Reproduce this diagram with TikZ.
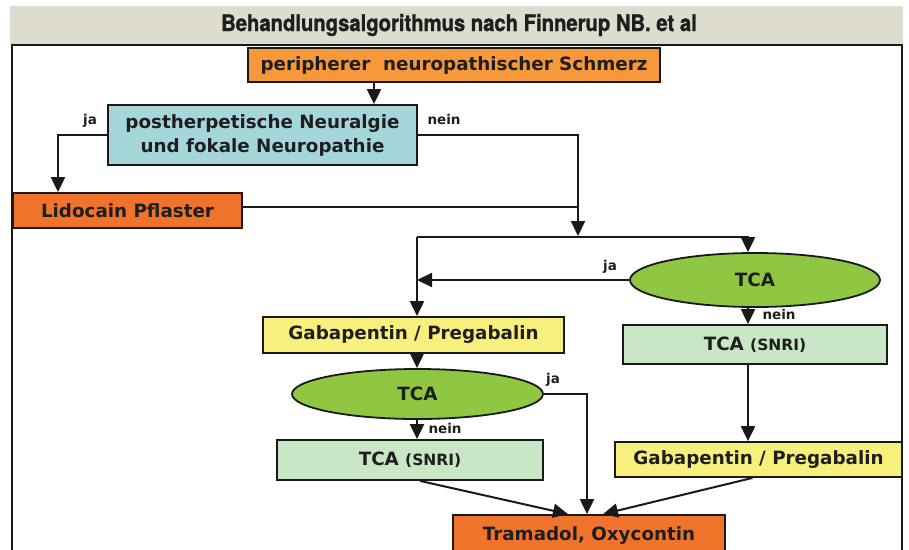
\documentclass[tikz,border=0pt]{standalone}
\usepackage{fontspec}
\setmainfont{DejaVu Sans}
\newfontfamily\titlefont[FakeStretch=0.88,FakeBold=1.2]{TeX Gyre Heros}
\usetikzlibrary{arrows.meta,shapes.geometric,calc}
\definecolor{bandcol}{HTML}{DEDBCF}
\definecolor{orangeL}{HTML}{F7983A}
\definecolor{orangeD}{HTML}{F0732B}
\definecolor{bluecol}{HTML}{A4D6DA}
\definecolor{yellowcol}{HTML}{F8F07C}
\definecolor{greencol}{HTML}{8FC742}
\definecolor{lgreencol}{HTML}{C9E6C6}
\definecolor{txtcol}{HTML}{1E1E1E}
\begin{document}
\begin{tikzpicture}[x=1pt,y=-1pt,
  box/.style={draw=black!90, line width=1.8pt, rectangle, inner sep=0pt,
    text=txtcol, font=\bfseries\fontsize{18.3}{24}\selectfont, align=center},
  oval/.style={draw=black!90, line width=1.8pt, ellipse, inner sep=0pt,
    fill=greencol, text=txtcol, font=\bfseries\fontsize{18.3}{24}\selectfont},
  lbl/.style={text=txtcol, font=\bfseries\fontsize{13.5}{15}\selectfont, inner sep=0pt},
  conn/.style={line width=2pt, draw=black!90},
  arr/.style={conn, -{Triangle[width=14pt,length=15pt]}}
]
\useasboundingbox (0,0) rectangle (909,549);
\clip (0,0) rectangle (909,549);
% title band and frame
\fill[bandcol] (10,6) rectangle (903,45);
\node[text=txtcol, font=\titlefont\bfseries\fontsize{23}{26}\selectfont] (title) at (459,25) {Behandlungsalgorithmus nach Finnerup NB. et al};
\draw[line width=2.2pt, black!90] (12,552) -- (12,45) -- (902,45) -- (902,552);

% nodes
\node[box, fill=orangeL, minimum width=412pt, minimum height=34pt] (top) at (454,65) {peripherer\ \ neuropathischer Schmerz};
\node[box, fill=bluecol, minimum width=309pt, minimum height=60pt] (blue) at (262.5,135) {postherpetische Neuralgie\\und fokale Neuropathie};
\node[box, fill=orangeD, minimum width=229pt, minimum height=35pt] (lido) at (127.5,210.5) {Lidocain Pflaster};
\node[oval, minimum width=250pt, minimum height=54pt] (tcaR) at (755,280) {TCA};
\node[box, fill=yellowcol, minimum width=301pt, minimum height=36pt] (gabL) at (413.5,335) {Gabapentin / Pregabalin};
\node[oval, minimum width=251pt, minimum height=50pt] (tcaL) at (417.5,394) {TCA};
\node[box, fill=lgreencol, minimum width=266pt, minimum height=40pt] (snriL) at (410,460) {TCA {\fontsize{15.5}{18}\selectfont (SNRI)}};
\node[box, fill=lgreencol, minimum width=264pt, minimum height=39pt] (snriR) at (755,344.5) {TCA {\fontsize{15.5}{18}\selectfont (SNRI)}};
\node[box, fill=yellowcol, minimum width=287pt, minimum height=35pt] (gabR) at (758.5,459.5) {Gabapentin / Pregabalin};
\node[box, fill=orangeD, minimum width=272pt, minimum height=41pt] (tram) at (589,535.5) {Tramadol, Oxycontin};

% labels
\node[lbl] (ja1) at (90,121) {ja};
\node[lbl] (nein1) at (444,119) {nein};
\node[lbl] (ja2) at (610,267) {ja};
\node[lbl] (nein2) at (779,314) {nein};
\node[lbl] (ja3) at (553,380) {ja};
\node[lbl] (nein3) at (445,428) {nein};

% helper coordinates
\coordinate (k1) at (374,0);
\coordinate (k2) at (58,0);
\coordinate (j1) at (578,236);
\coordinate (bl) at (417,237);
\coordinate (br) at (748,237);
\coordinate (k3) at (587,0);
\coordinate (k4) at (0,207);

% connectors
\draw[arr] (top.south -| k1) -- (blue.north -| k1);
\draw[arr] (blue.west) -| (lido.north -| k2);
\draw[arr] (blue.east) -| (j1);
\draw[conn] (lido.east |- k4) -- (j1 |- k4);
\draw[arr] (bl) -- (br) -- (tcaR.north -| br);
\draw[arr] (bl) -- (gabL.north -| bl);
\draw[arr] (tcaR.west) -- (tcaR.west -| bl);
\draw[arr] (tcaR.south -| br) -- (snriR.north -| br);
\draw[arr] (snriR.south -| br) -- (gabR.north -| br);
\draw[arr] (gabL.south -| bl) -- (tcaL.north -| bl);
\draw[arr] (tcaL.south -| bl) -- (snriL.north -| bl);
\draw[arr] (tcaL.east) -| (tram.north -| k3);
\draw[arr] ([xshift=10pt]snriL.south) -- ([xshift=-21pt]tram.north);
\draw[arr] ([xshift=-6pt]gabR.south) -- ([xshift=14pt]tram.north);
\end{tikzpicture}
\end{document}
